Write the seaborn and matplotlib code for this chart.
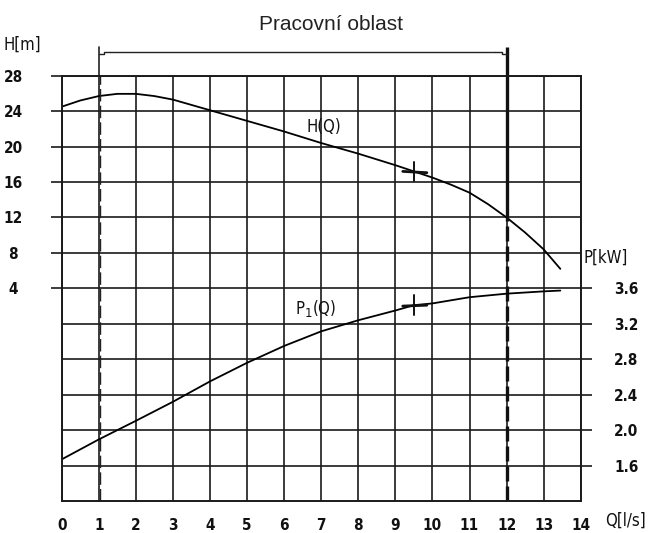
import matplotlib
matplotlib.use("Agg")
import matplotlib.pyplot as plt
import seaborn as sns
import pandas as pd

# ---- data ----
q_h = [0, 0.5, 1, 1.5, 2, 2.5, 3, 3.5, 4, 5, 6, 7, 8, 9, 9.5, 10, 10.5, 11, 11.5, 12, 12.5, 13, 13.45]
h_vals = [24.5, 25.2, 25.7, 25.95, 25.95, 25.7, 25.3, 24.7, 24.1, 22.9, 21.7, 20.4, 19.2, 17.9, 17.2,
          16.5, 15.7, 14.8, 13.5, 12.0, 10.3, 8.4, 6.2]
q_p = [0, 1, 2, 3, 4, 5, 6, 7, 8, 9, 9.5, 10, 11, 12, 13, 13.45]
p_vals = [1.67, 1.895, 2.105, 2.32, 2.55, 2.76, 2.95, 3.115, 3.24, 3.35, 3.41, 3.43, 3.50, 3.54, 3.566, 3.575]
q_ticks = list(range(0, 15))
h_ticks = [4, 8, 12, 16, 20, 24, 28]
p_ticks = [1.6, 2.0, 2.4, 2.8, 3.2, 3.6]
duty_q = 9.5
duty_h = 17.2
duty_p = 3.41
range_q = [1, 12]
title = "Pracovní oblast"

sns.set_theme(style="white")
plt.rcParams['font.family'] = ['DejaVu Sans']

fig = plt.figure(figsize=(6.55, 5.33), dpi=100)
ax = fig.add_axes([0.0942, 0.0600, 0.7924, 0.798])
ax2 = ax.twinx()

df_h = pd.DataFrame({"Q": q_h, "H": h_vals})
df_p = pd.DataFrame({"Q": q_p, "P": p_vals})

ax.set_xlim(0, 14)
ax.set_ylim(-20, 28)
ax2.set_ylim(1.2, 6.0)

sns.lineplot(data=df_h, x="Q", y="H", ax=ax, color="black", lw=1.3, sort=False)
sns.lineplot(data=df_p, x="Q", y="P", ax=ax2, color="black", lw=1.3, sort=False)

tickfont = dict(family="DejaVu Sans", stretch="condensed", size=11, weight="bold")

# grid
ax.set_xticks(q_ticks)
ax.set_yticks(h_ticks)
ax.set_yticks([-16, -12, -8, -4, 0], minor=True)
ax.grid(which="both", color="#1a1a1a", lw=1.2)
ax.set_axisbelow(True)
ax.set_xticklabels([str(v) for v in q_ticks], fontdict=tickfont)
ax.set_yticklabels([str(v) for v in h_ticks], fontdict=tickfont)
ax.tick_params(axis="x", which="major", direction="out", length=7, width=1.2, color="#1a1a1a", pad=5, labelcolor="#111111")
ax.tick_params(axis="y", which="major", direction="out", length=8, width=1.2, color="#1a1a1a", pad=27, labelcolor="#111111")
ax.tick_params(axis="y", which="minor", length=0)
for lab in ax.get_yticklabels():
    lab.set_horizontalalignment("center")
ax.set_xlabel("")
ax.set_ylabel("")

ax2.set_yticks(p_ticks)
ax2.set_yticklabels([f"{v:.1f}" for v in p_ticks], fontdict=tickfont)
ax2.tick_params(axis="y", direction="out", length=8, width=1.2, color="#1a1a1a", pad=16, labelcolor="#111111", right=True)
ax2.set_ylabel("")
ax2.grid(False)

for a in (ax, ax2):
    for s in a.spines.values():
        s.set_color("#1a1a1a")
        s.set_linewidth(1.2)

# operating range lines
ax.axvline(range_q[0] + 0.04, color="#222222", lw=1.0, ls=(0, (9, 3)))
ax.plot([range_q[1], range_q[1]], [12, 31.2], color="#111111", lw=2.4, solid_capstyle="butt", clip_on=False)
ax.plot([range_q[1], range_q[1]], [-20, 12], color="#111111", lw=2.4, ls=(0, (4.5, 1.5)))
ax.plot([range_q[0], range_q[0]], [28, 31.2], color="#222222", lw=1.2, clip_on=False)
ax.plot([range_q[0] + 0.3, range_q[1] - 0.3], [30.7, 30.7], color="#222222", lw=1.0, clip_on=False)
ax.plot([range_q[0], range_q[0] + 0.15, range_q[0] + 0.15, range_q[0] + 0.3],
        [30.4, 30.4, 30.7, 30.7], color="#222222", lw=1.0, clip_on=False)
ax.plot([range_q[1] - 0.3, range_q[1] - 0.12, range_q[1] - 0.12, range_q[1]],
        [30.7, 30.7, 30.4, 30.4], color="#222222", lw=1.0, clip_on=False)

# duty points
ax.plot([duty_q - 0.3, duty_q + 0.35], [duty_h, duty_h - 0.15], color="#111111", lw=2.0)
ax.plot([duty_q, duty_q], [duty_h - 1.1, duty_h + 1.1], color="#111111", lw=1.4)
ax2.plot([duty_q - 0.3, duty_q + 0.35], [duty_p - 0.01, duty_p], color="#111111", lw=2.0)
ax2.plot([duty_q, duty_q], [duty_p - 0.11, duty_p + 0.11], color="#111111", lw=1.4)

labfont = dict(family="DejaVu Sans", stretch="condensed", size=12, color="#111111")
ax.text(6.6, 22.2, "H(Q)", ha="left", va="center", **labfont)
ax2.text(6.3, 3.37, "P$_1$(Q)", ha="left", va="center", **labfont)

fig.text(22 / 655, 1 - 45 / 533, "H[m]", ha="center", va="center", **labfont)
fig.text(606 / 655, 1 - 258 / 533, "P[kW]", ha="center", va="center", **labfont)
fig.text(625 / 655, 1 - 521 / 533, "Q[l/s]", ha="center", va="center", **labfont)
fig.text(331 / 655, 1 - 24 / 533, title, ha="center", va="center",
         family="Liberation Sans", size=15, color="#222222")

fig.savefig("out.png", dpi=100, facecolor="white")
